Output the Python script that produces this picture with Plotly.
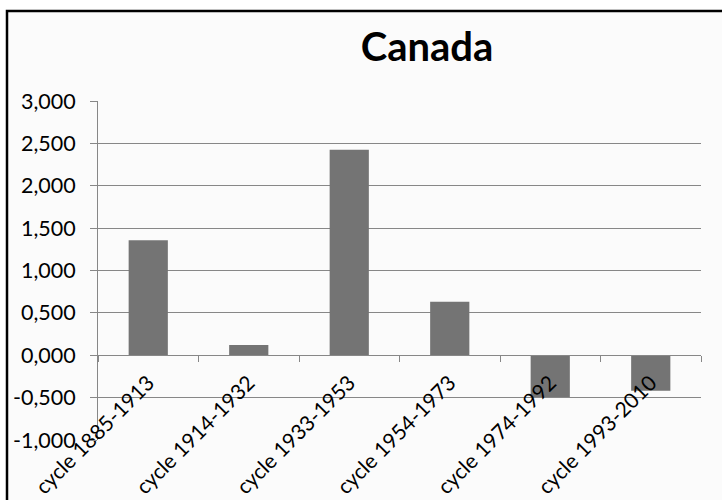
import plotly.graph_objects as go

categories = ["cycle 1885-1913", "cycle 1914-1932", "cycle 1933-1953",
              "cycle 1954-1973", "cycle 1974-1992", "cycle 1993-2010"]
values = [1.357, 0.120, 2.426, 0.632, -0.492, -0.420]
y_ticks = [-1.0, -0.5, 0.0, 0.5, 1.0, 1.5, 2.0, 2.5, 3.0]
y_tick_labels = ["-1,000", "-0,500", "0,000", "0,500", "1,000", "1,500", "2,000", "2,500", "3,000"]
title_text = "Canada"

W, H = 722, 500
L, R, T, B = 98, 21, 101, 60
pw, ph = W - L - R, H - T - B

def px_to_paper_x(px):
    return (px - L) / pw

def px_to_paper_y(py):
    return (H - B - py) / ph

FONT = "Lato"
GRID = "#878787"

fig = go.Figure()
fig.add_trace(go.Bar(x=categories, y=values, marker=dict(color="#747474", line=dict(width=0)),
                     hoverinfo="skip"))

yrange = [-1.0, 3.0]
fig.update_layout(
    width=W, height=H,
    margin=dict(l=L, r=R, t=T, b=B, autoexpand=False),
    paper_bgcolor="white",
    plot_bgcolor="rgba(0,0,0,0)",
    bargap=0.61,
    showlegend=False,
    hovermode=False,
    font=dict(family=FONT, color="#000000", size=21),
    title=dict(text="<b>" + title_text + "</b>", font=dict(family=FONT, size=40, color="#000000"),
               x=px_to_paper_x(427), xref="paper", xanchor="center",
               y=1 - 47 / H, yref="container", yanchor="middle"),
    xaxis=dict(
        anchor="free",
        position=(0 - yrange[0]) / (yrange[1] - yrange[0]),
        showline=True, linecolor=GRID, linewidth=1,
        ticks="outside", ticklen=6, tickcolor=GRID, tickwidth=1,
        tickson="boundaries",
        tickangle=-45,
        tickfont=dict(family=FONT, size=21, color="#000000"),
        ticklabelstandoff=6,
        showgrid=False, zeroline=False, automargin=False,
    ),
    yaxis=dict(
        range=yrange,
        tickvals=y_ticks, ticktext=y_tick_labels,
        showline=True, linecolor=GRID, linewidth=1,
        ticks="outside", ticklen=7, tickcolor=GRID, tickwidth=1,
        showgrid=True, gridcolor=GRID, gridwidth=1,
        zeroline=False, automargin=False,
        tickfont=dict(family=FONT, size=21.5, color="#000000"),
        ticklabelstandoff=10,
    ),
    shapes=[dict(type="rect", xref="paper", yref="paper", layer="below",
                 x0=px_to_paper_x(7), x1=px_to_paper_x(760),
                 y0=px_to_paper_y(540), y1=px_to_paper_y(11),
                 line=dict(color="#000000", width=2.5), fillcolor="#fbfbfb")],
)

fig.write_html("out.html", config={"displayModeBar": False},
               post_script="document.body.style.margin='0';document.body.style.padding='0';")
